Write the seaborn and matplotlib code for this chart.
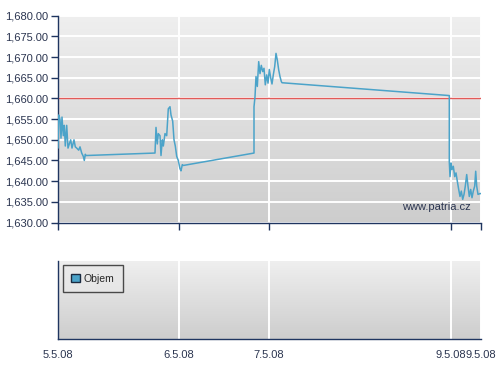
import numpy as np
import pandas as pd
import matplotlib
matplotlib.use("Agg")
import matplotlib.pyplot as plt
import seaborn as sns
from matplotlib.patches import Patch

# ---- data (time position along the compressed trading axis, price) ----
t = [0, 0.7, 2, 3, 4, 5.3, 6.3, 7.3, 8.7, 10, 11.3, 12.7, 14, 16, 17.3, 18.7, 20.7, 22, 23.7,
     25.3, 26.3, 27.3, 28,
     97, 98, 99.3, 100.3, 102, 103, 104.3, 105.3, 107, 108.7, 110.3, 112, 113, 114.7, 116,
     117.3, 118.7, 120.3, 122, 123, 124.3, 125.3,
     196, 196, 197, 198, 199.3, 200.7, 202, 203.3, 204.7, 206, 207.3, 208.7, 210, 211.3, 212.7,
     214, 215.3, 216.7, 218, 219.3, 220.7, 222, 223.3, 224,
     391.3, 391.3, 392, 393, 394, 395.3, 396.7, 398, 399.3, 400.7, 402, 403.3, 404.7, 406, 407.3,
     408.7, 410, 411.3, 412.7, 414, 415.3, 416.7, 417.7, 418.7, 420, 422, 423]
price = [1648.0, 1656.0, 1655.0, 1650.4, 1655.5, 1651.0, 1653.5, 1648.5, 1653.5, 1648.0, 1649.0,
         1650.0, 1648.0, 1650.0, 1648.3, 1648.0, 1647.5, 1648.3, 1646.8, 1646.0, 1645.0, 1646.5,
         1646.2,
         1646.8, 1653.0, 1649.0, 1651.5, 1651.0, 1646.2, 1650.0, 1648.5, 1651.5, 1651.0, 1657.5,
         1658.0, 1656.0, 1654.5, 1650.0, 1648.5, 1646.0, 1645.0, 1643.0, 1642.5, 1644.0, 1643.8,
         1646.8, 1658.0, 1660.4, 1665.3, 1662.9, 1668.9, 1666.0, 1668.0, 1666.5, 1667.3, 1663.3,
         1665.7, 1663.7, 1667.0, 1665.0, 1663.5, 1665.7, 1667.7, 1670.9, 1669.3, 1666.9, 1665.3,
         1664.1, 1663.8,
         1660.7, 1644.7, 1641.1, 1644.4, 1642.8, 1643.6, 1641.1, 1642.0, 1640.0, 1638.0, 1636.3,
         1637.6, 1635.6, 1636.8, 1638.8, 1641.6, 1638.8, 1636.3, 1638.0, 1636.0, 1637.6, 1638.8,
         1642.4, 1638.8, 1636.8, 1637.0, 1637.0]
tick_pos = [0, 121, 211, 393, 423]
tick_labels = ["5.5.08", "6.5.08", "7.5.08", "9.5.08", "9.5.08"]
y_ticks = [1630, 1635, 1640, 1645, 1650, 1655, 1660, 1665, 1670, 1675, 1680]
ref_level = 1660
legend_label = "Objem"

df = pd.DataFrame({"t": t, "price": price})

sns.set_style("white")
plt.rcParams["font.family"] = ["Liberation Sans", "DejaVu Sans"]

NAVY = "#1f3560"
TXT = "#2b3550"
LINE = "#4ba3c9"

fig = plt.figure(figsize=(5.0, 3.66), dpi=100)
ax = fig.add_axes([0.116, 0.392, 0.846, 0.565])
ax2 = fig.add_axes([0.116, 0.074, 0.846, 0.213])

grad = np.linspace(0, 1, 256).reshape(-1, 1)
cmap = matplotlib.colors.LinearSegmentedColormap.from_list("g", ["#efefef", "#cdcdcd"])
for a in (ax, ax2):
    a.imshow(grad, aspect="auto", cmap=cmap, extent=[0, 1, 0, 1],
             transform=a.transAxes, zorder=0)
    a.set_xlim(0, 423)
    for s in ("top", "right"):
        a.spines[s].set_visible(False)
    for s in ("left", "bottom"):
        a.spines[s].set_color(NAVY)
        a.spines[s].set_linewidth(1.0)
    for xp in tick_pos:
        a.axvline(xp, color="white", lw=1.4, zorder=1)
    a.set_xticks(tick_pos)
    a.tick_params(axis="x", direction="out", length=5, color=NAVY, width=1,
                  labelsize=8, labelcolor=TXT, pad=3)
    a.set_xlabel("")
    a.set_ylabel("")

# top panel
ax.set_ylim(1630, 1680)
ax.set_yticks(y_ticks)
ax.set_yticklabels([f"{v:,.2f}" for v in y_ticks])
for v in y_ticks:
    ax.axhline(v, color="white", lw=1.4, zorder=1)
ax.tick_params(axis="y", direction="out", length=5, color=NAVY, width=1,
               labelsize=8, labelcolor=TXT, pad=2, left=True)
ax.tick_params(axis="x", labelbottom=False, bottom=True)
ax.axhline(ref_level, color="#e25a58", lw=1.0, zorder=2)
sns.lineplot(data=df, x="t", y="price", ax=ax, color=LINE, lw=1.1,
             sort=False, estimator=None, zorder=3)
ax.set_xlabel("")
ax.set_ylabel("")
ax.set_xlim(0, 423)
ax.text(0.975, 0.075, "www.patria.cz", transform=ax.transAxes, ha="right",
        va="center", fontsize=8, color=TXT, zorder=4)

# bottom panel
ax2.set_ylim(0, 1)
ax2.set_yticks([])
ax2.set_xticklabels(tick_labels)
leg = ax2.legend(handles=[Patch(facecolor=LINE, edgecolor="#1a2a40", label=legend_label)],
                 loc="upper left", bbox_to_anchor=(0.007, 0.97), fontsize=7.5,
                 frameon=True, fancybox=False, handlelength=0.8, handleheight=0.8,
                 handletextpad=0.4, borderpad=0.8, borderaxespad=0.2)
leg.get_frame().set_edgecolor("#222222")
leg.get_frame().set_facecolor("#e8e8e8")
leg.get_frame().set_linewidth(1.0)

fig.savefig("out.png", dpi=100)
